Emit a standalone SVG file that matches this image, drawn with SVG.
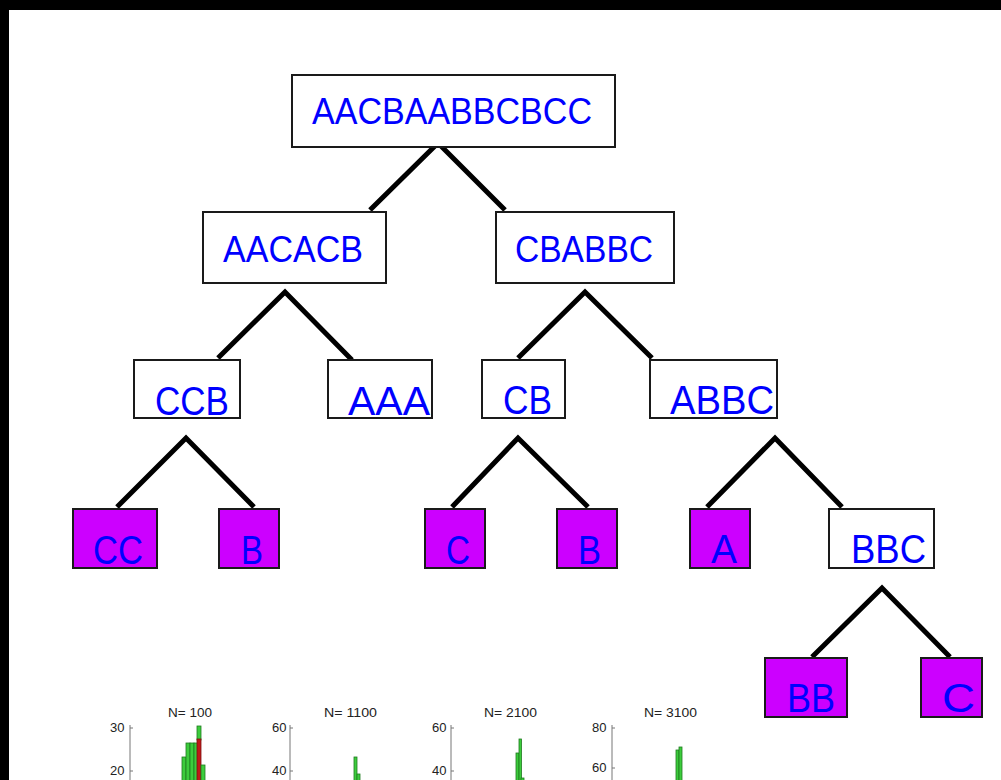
<svg xmlns="http://www.w3.org/2000/svg" width="1001" height="780" viewBox="0 0 1001 780">
<style>
.box{fill:#fff;stroke:#1a1a1a;stroke-width:2}
.leaf{fill:#cc00ff;stroke:#1a1a1a;stroke-width:2}
.t{font-family:"Liberation Sans",Arial,sans-serif;fill:#0000ff}
.t1{font-size:37px}
.t2{font-size:41px}
.edge{fill:none;stroke:#000;stroke-width:5;stroke-linejoin:miter}
.ax{stroke:#777;stroke-width:1;fill:none}
.lab{font-family:"Liberation Sans",Arial,sans-serif;font-size:13px;fill:#222}
.g{fill:#3ccc3c;stroke:#1f7a1f;stroke-width:0.8}
.r{fill:#c01818;stroke:#7a1010;stroke-width:0.8}
</style>
<rect x="0" y="0" width="1001" height="780" fill="#fff"/>
<rect x="0" y="0" width="1001" height="10" fill="#000"/>
<rect x="0" y="0" width="9" height="780" fill="#000"/>

<g id="connectors">
<polyline class="edge" points="370,210 438,143 505,210"/>
<polyline class="edge" points="218,358 285,292 352,360"/>
<polyline class="edge" points="518,358 585,292 652,358"/>
<polyline class="edge" points="117,507 186,438 254,507"/>
<polyline class="edge" points="452,507 518,438 588,507"/>
<polyline class="edge" points="707,507 775,438 842,507"/>
<polyline class="edge" points="812,657 882,588 950,657"/>
</g>

<g id="n-root"><rect class="box" x="292" y="75" width="323" height="72"/><text class="t t1" x="312" y="124" textLength="280" lengthAdjust="spacingAndGlyphs">AACBAABBCBCC</text></g>
<g id="n-aacacb"><rect class="box" x="203" y="212" width="183" height="71"/><text class="t t1" x="223" y="262" textLength="140" lengthAdjust="spacingAndGlyphs">AACACB</text></g>
<g id="n-cbabbc"><rect class="box" x="496" y="212" width="178" height="71"/><text class="t t1" x="515" y="262" textLength="138" lengthAdjust="spacingAndGlyphs">CBABBC</text></g>
<g id="n-ccb"><rect class="box" x="134" y="360" width="106" height="58"/><text class="t t2" x="155" y="415" textLength="74" lengthAdjust="spacingAndGlyphs">CCB</text></g>
<g id="n-aaa"><rect class="box" x="328" y="360" width="104" height="58"/><text class="t t2" x="348" y="415" textLength="82" lengthAdjust="spacingAndGlyphs">AAA</text></g>
<g id="n-cb"><rect class="box" x="482" y="360" width="83" height="58"/><text class="t t2" x="503" y="414" textLength="49" lengthAdjust="spacingAndGlyphs">CB</text></g>
<g id="n-abbc"><rect class="box" x="650" y="360" width="127" height="58"/><text class="t t2" x="670" y="414" textLength="104" lengthAdjust="spacingAndGlyphs">ABBC</text></g>
<g id="n-cc"><rect class="leaf" x="73" y="509" width="84" height="59"/><text class="t t2" x="93" y="564" textLength="50" lengthAdjust="spacingAndGlyphs">CC</text></g>
<g id="n-b1"><rect class="leaf" x="219" y="509" width="60" height="59"/><text class="t t2" x="241" y="564" textLength="22" lengthAdjust="spacingAndGlyphs">B</text></g>
<g id="n-c1"><rect class="leaf" x="425" y="509" width="60" height="59"/><text class="t t2" x="446" y="564" textLength="24" lengthAdjust="spacingAndGlyphs">C</text></g>
<g id="n-b2"><rect class="leaf" x="557" y="509" width="60" height="59"/><text class="t t2" x="578" y="564" textLength="23" lengthAdjust="spacingAndGlyphs">B</text></g>
<g id="n-a"><rect class="leaf" x="690" y="509" width="60" height="59"/><text class="t t2" x="711" y="563" textLength="26" lengthAdjust="spacingAndGlyphs">A</text></g>
<g id="n-bbc"><rect class="box" x="829" y="509" width="105" height="59"/><text class="t t2" x="851" y="563" textLength="75" lengthAdjust="spacingAndGlyphs">BBC</text></g>
<g id="n-bb"><rect class="leaf" x="765" y="658" width="82" height="59"/><text class="t t2" x="787" y="712" textLength="48" lengthAdjust="spacingAndGlyphs">BB</text></g>
<g id="n-c2"><rect class="leaf" x="921" y="658" width="61" height="59"/><text class="t t2" x="942" y="712" textLength="33" lengthAdjust="spacingAndGlyphs">C</text></g>

<g id="hist1">
<text class="lab" x="168" y="717" textLength="44" lengthAdjust="spacingAndGlyphs">N= 100</text>
<text class="lab" x="110" y="732">30</text>
<text class="lab" x="110" y="775">20</text>
<line class="ax" x1="130" y1="725" x2="130" y2="780"/>
<line class="ax" x1="130" y1="728" x2="133" y2="728"/>
<line class="ax" x1="130" y1="771" x2="133" y2="771"/>
<rect class="g" x="182" y="757" width="4" height="25"/>
<rect class="g" x="186" y="743" width="4" height="40"/>
<rect class="g" x="190" y="743" width="4" height="40"/>
<rect class="g" x="194" y="743" width="4" height="40"/>
<rect class="g" x="197" y="726" width="4" height="14"/>
<rect class="r" x="197" y="739" width="4" height="44"/>
<rect class="g" x="201" y="765" width="4" height="18"/>
</g>
<g id="hist2">
<text class="lab" x="324" y="717" textLength="53" lengthAdjust="spacingAndGlyphs">N= 1100</text>
<text class="lab" x="272" y="732">60</text>
<text class="lab" x="272" y="775">40</text>
<line class="ax" x1="290" y1="725" x2="290" y2="780"/>
<line class="ax" x1="290" y1="728" x2="293" y2="728"/>
<line class="ax" x1="290" y1="771" x2="293" y2="771"/>
<rect class="g" x="354" y="757" width="3" height="25"/>
<rect class="g" x="357" y="774" width="3" height="8"/>
</g>
<g id="hist3">
<text class="lab" x="484" y="717" textLength="53" lengthAdjust="spacingAndGlyphs">N= 2100</text>
<text class="lab" x="432" y="732">60</text>
<text class="lab" x="432" y="775">40</text>
<line class="ax" x1="451" y1="725" x2="451" y2="780"/>
<line class="ax" x1="451" y1="728" x2="454" y2="728"/>
<line class="ax" x1="451" y1="771" x2="454" y2="771"/>
<rect class="g" x="516" y="753" width="3" height="30"/>
<rect class="g" x="519" y="739" width="2.5" height="44"/>
<rect class="g" x="521" y="778" width="3" height="5"/>
</g>
<g id="hist4">
<text class="lab" x="644" y="717" textLength="53" lengthAdjust="spacingAndGlyphs">N= 3100</text>
<text class="lab" x="592" y="732">80</text>
<text class="lab" x="592" y="772">60</text>
<line class="ax" x1="612" y1="725" x2="612" y2="780"/>
<line class="ax" x1="612" y1="728" x2="615" y2="728"/>
<line class="ax" x1="612" y1="768" x2="615" y2="768"/>
<rect class="g" x="676" y="750" width="3" height="33"/>
<rect class="g" x="679" y="747" width="3" height="36"/>
</g>
</svg>
